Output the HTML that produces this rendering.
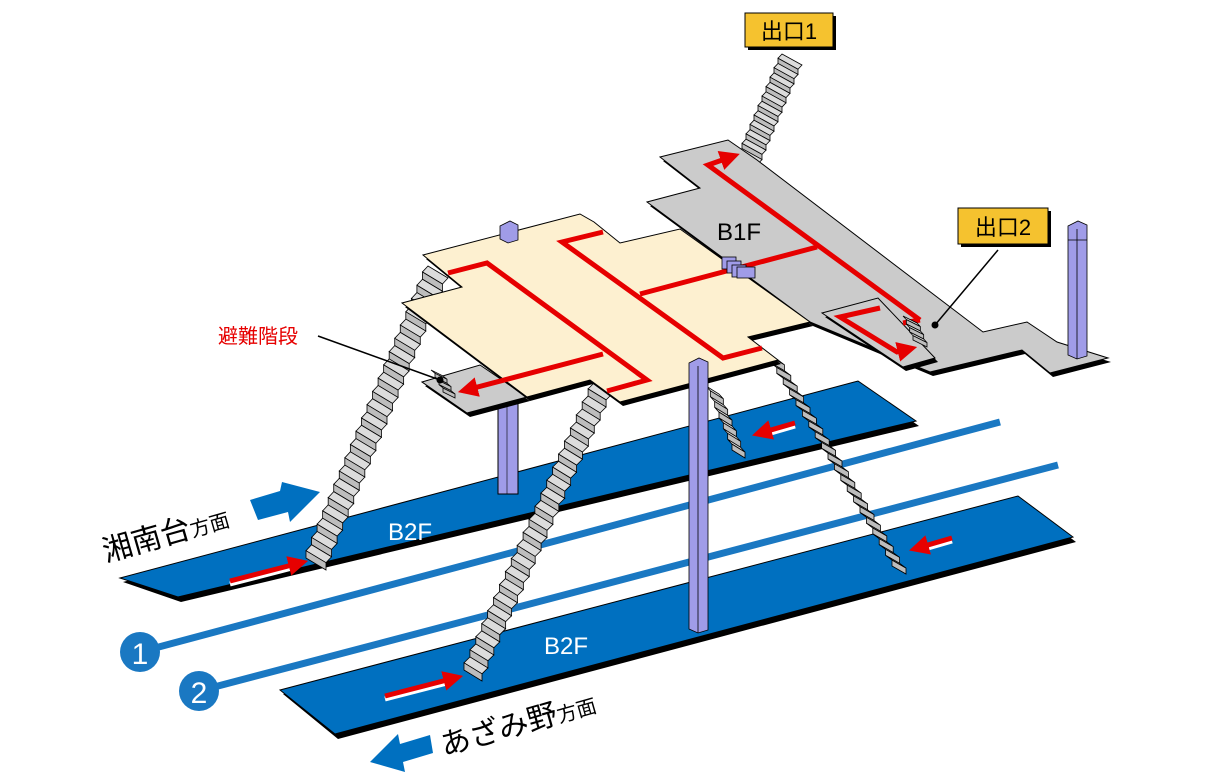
<!DOCTYPE html>
<html><head><meta charset="utf-8"><style>
html,body{margin:0;padding:0;background:#fff;width:1216px;height:778px;overflow:hidden}
svg{display:block}
text{font-family:"Liberation Sans","Noto Sans CJK JP",sans-serif}
</style></head><body>
<svg id="s" width="1216" height="778" viewBox="0 0 1216 778" xmlns="http://www.w3.org/2000/svg">
<defs>
<marker id="ah" markerWidth="4" markerHeight="4" refX="1.5" refY="2" orient="auto" markerUnits="strokeWidth"><path d="M0,0 L4,2 L0,4 z" fill="#e60000"/></marker>
</defs>
<polygon points="123,582 861,385 919,426 181,602" fill="#000"/>
<polygon points="120,578 858,381 916,421 178,597" fill="#0070c0" stroke="#000" stroke-width="1"/>
<polygon points="283,694 1021,500 1076,542 338,739" fill="#000"/>
<polygon points="280,690 1018,496 1073,537 335,734" fill="#0070c0" stroke="#000" stroke-width="1"/>
<line x1="140" y1="652" x2="1000" y2="422" stroke="#1a78c2" stroke-width="7"/>
<line x1="199" y1="691" x2="1058" y2="465" stroke="#1a78c2" stroke-width="7"/>
<circle cx="140" cy="652" r="20" fill="#1a78c2"/>
<circle cx="199" cy="691" r="20" fill="#1a78c2"/>
<text x="140" y="664" fill="#fff" font-size="30" text-anchor="middle">1</text>
<text x="199" y="703" fill="#fff" font-size="30" text-anchor="middle">2</text>
<text x="410" y="540" fill="#fff" font-size="24" text-anchor="middle">B2F</text>
<text x="566" y="654" fill="#fff" font-size="24" text-anchor="middle">B2F</text>
<g stroke-linecap="butt">
<line x1="230" y1="584" x2="296" y2="567" stroke="#fff" stroke-width="5"/>
<line x1="230" y1="581" x2="296" y2="564" stroke="#e60000" stroke-width="5" marker-end="url(#ah)"/>
<line x1="385" y1="699" x2="451" y2="682" stroke="#fff" stroke-width="5"/>
<line x1="385" y1="696" x2="451" y2="679" stroke="#e60000" stroke-width="5" marker-end="url(#ah)"/>
<line x1="795" y1="426" x2="764" y2="435" stroke="#fff" stroke-width="5"/>
<line x1="795" y1="423" x2="764" y2="432" stroke="#e60000" stroke-width="5" marker-end="url(#ah)"/>
<line x1="952" y1="541" x2="921" y2="550" stroke="#fff" stroke-width="5"/>
<line x1="952" y1="538" x2="921" y2="547" stroke="#e60000" stroke-width="5" marker-end="url(#ah)"/>
</g>
<polygon points="250,500 280,491 282,482 320,492 290,522 288,512 258,520" fill="#0070c0"/>
<polygon points="430,735 400,744 398,734 370,762 405,772 403,762 433,753" fill="#0070c0"/>
<g transform="translate(106,562) rotate(-16)"><text font-size="30" fill="#000">湘南台<tspan font-size="20">方面</tspan></text></g>
<g transform="translate(444,756) rotate(-16)"><text font-size="30" fill="#000">あざみ野<tspan font-size="20">方面</tspan></text></g>
<polygon points="498,400 518,400 518,494 498,494" fill="#a09ce8" stroke="#000" stroke-width="1"/>
<line x1="507" y1="400" x2="507" y2="494" stroke="#000" stroke-width="0.6"/>
<g id="stairs"></g>
<polygon points="663,161 731,144 760,164 986,336 1030,326 1060,346 1111,362 1053,377 1025,354 933,376 813,326 650,206 703,192" fill="#000"/>
<polygon points="660,157 728,140 757,160 983,332 1027,322 1057,342 1108,358 1050,373 1022,350 930,372 810,322 647,202 700,188" fill="#cbcbcb" stroke="#000" stroke-width="1"/>
<polygon points="825,317 881,302 938,362 906,371" fill="#000"/>
<polygon points="822,313 878,298 935,358 903,367" fill="#cbcbcb" stroke="#000" stroke-width="1"/>
<polygon points="425,386 483,369 530,401 470,417" fill="#000"/>
<polygon points="422,382 480,365 527,397 467,413" fill="#cbcbcb" stroke="#000" stroke-width="1"/>
<polygon points="426,259 583,218 597,226 623,247 683,233 813,326 751,341 781,364 623,406 593,384 530,401 405,307 465,291" fill="#000"/>
<polygon points="423,255 580,214 594,222 620,243 680,229 810,322 748,337 778,360 620,402 590,380 527,397 402,303 462,287" fill="#fdf0d0" stroke="#000" stroke-width="1"/>
<text x="717" y="240" font-size="24" fill="#000">B1F</text>
<g fill="none" stroke="#e60000" stroke-width="5" stroke-linejoin="miter">
<polyline points="448,273 487,263 647,380 607,391"/>
<polyline points="603,354 470,389" marker-end="url(#ah)"/>
<polyline points="603,232 562,242 723,358 762,348"/>
<polyline points="640,294 817,247"/>
<polyline points="920,320 708,165 728,158" marker-end="url(#ah)"/>
<polyline points="903,323 920,320"/>
<polyline points="880,308 840,317 897,352 905,350" marker-end="url(#ah)"/>
</g>
<g fill="#a09ce8" stroke="#000" stroke-width="0.8">
<rect x="722" y="257" width="14" height="12"/><rect x="727" y="261" width="14" height="12"/><rect x="732" y="265" width="14" height="12"/><rect x="737" y="267" width="18" height="11"/>
<polygon points="500,226 510,221 518,225 518,240 508,243 500,239"/>
<polygon points="1068,226 1078,221 1087,225 1087,356 1077,359 1068,355"/>
<line x1="1077" y1="229" x2="1077" y2="359"/><line x1="1068" y1="240" x2="1087" y2="240"/>
<polygon points="689,363 699,358 708,362 708,630 698,633 689,629"/>
<line x1="698" y1="366" x2="698" y2="633"/>
</g>
<g id="stairs2"></g>
<rect x="748" y="16" width="88" height="34" fill="#000"/>
<rect x="745" y="13" width="88" height="34" fill="#f5c22f" stroke="#000" stroke-width="1"/>
<text x="789" y="39" font-size="22" text-anchor="middle">出口1</text>
<rect x="961" y="211" width="90" height="36" fill="#000"/>
<rect x="958" y="208" width="90" height="36" fill="#f5c22f" stroke="#000" stroke-width="1"/>
<text x="1003" y="235" font-size="22" text-anchor="middle">出口2</text>
<line x1="998" y1="250" x2="935" y2="325" stroke="#000" stroke-width="1.5"/>
<circle cx="935" cy="325" r="3.5" fill="#000"/>
<text x="218" y="343" font-size="20" fill="#e60000">避難階段</text>
<line x1="318" y1="336" x2="440" y2="380" stroke="#000" stroke-width="1.5"/>
<circle cx="440" cy="380" r="3.5" fill="#000"/>
</svg>
<script>
function stair(g,ax,ay,bx,by,ux,uy,n){
  var s="";
  var dx=(bx-ax)/n,dy=(by-ay)/n;
  for(var i=0;i<n;i++){
    var x=ax+dx*i,y=ay+dy*i;
    s+='<polygon points="'+x+','+y+' '+(x+ux)+','+(y+uy)+' '+(x+ux+dx)+','+(y+uy+dy*0.45)+' '+(x+dx)+','+(y+dy*0.45)+'" fill="#dcdcdc" stroke="#000" stroke-width="0.8"/>';
    s+='<polygon points="'+(x+dx)+','+(y+dy*0.45)+' '+(x+ux+dx)+','+(y+uy+dy*0.45)+' '+(x+ux+dx)+','+(y+uy+dy)+' '+(x+dx)+','+(y+dy)+'" fill="#bdbdbd" stroke="#000" stroke-width="0.8"/>';
  }
  document.getElementById(g).insertAdjacentHTML('beforeend',s);
}
stair('stairs',428,266,306,558,20,12,22);
stair('stairs',594,383,464,670,18,11,22);
stair('stairs',764,352,892,566,14,8,20);
stair('stairs',706,386,732,450,13,8,6);
stair('stairs',782,54,738,158,20,11,11);
stair('stairs2',431,370,443,392,12,6,3);
stair('stairs2',903,316,913,340,14,7,3);
</script>
</body></html>
